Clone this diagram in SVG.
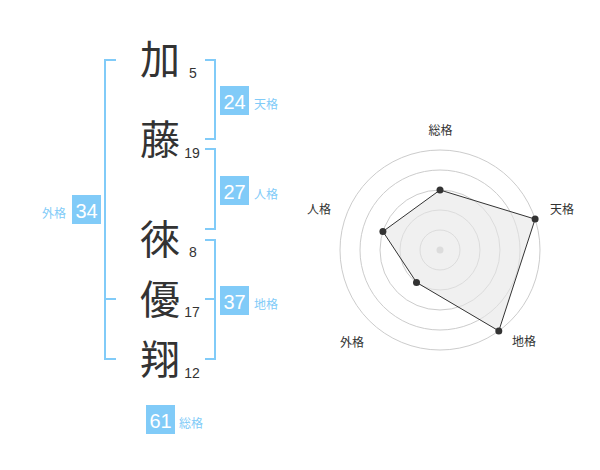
<svg xmlns="http://www.w3.org/2000/svg" width="600" height="470" viewBox="0 0 600 470">
<style>
.kj{font-family:"Noto Sans CJK JP","Noto Sans CJK SC",sans-serif;font-size:40px;fill:#333;text-anchor:middle}
.st{font-family:"Liberation Sans",Arial,sans-serif;font-size:14px;fill:#333;text-anchor:middle}
.bx{fill:#81cbf8}
.bn{font-family:"Liberation Sans",Arial,sans-serif;font-size:20px;fill:#fff;text-anchor:middle}
.bl{font-family:"Noto Sans CJK JP","Noto Sans CJK SC",sans-serif;font-size:12px;fill:#81cbf8}
.br{fill:none;stroke:#81cbf8;stroke-width:2}
.rl{font-family:"Noto Sans CJK JP","Noto Sans CJK SC",sans-serif;font-size:12px;fill:#333}
.ring{fill:none;stroke:#ccc;stroke-width:1}
.pt{fill:#333}
</style>
<rect width="600" height="470" fill="#fff"/>
<g id="brackets">
<path class="br" d="M116,60H105V359H116M105,299H116"/>
<path class="br" d="M205,60H215V139H205"/>
<path class="br" d="M205,149H215V229H205"/>
<path class="br" d="M205,240H215V359H205M205,299H215"/>
</g>
<g id="char-1"><text class="kj" x="160" y="74">加</text><text class="st" x="193" y="78">5</text></g>
<g id="char-2"><text class="kj" x="160" y="154">藤</text><text class="st" x="192" y="158">19</text></g>
<g id="char-3"><text class="kj" x="160" y="254">徠</text><text class="st" x="193" y="257">8</text></g>
<g id="char-4"><text class="kj" x="160" y="314">優</text><text class="st" x="192" y="317">17</text></g>
<g id="char-5"><text class="kj" x="160" y="374">翔</text><text class="st" x="192" y="378">12</text></g>
<g id="tenkaku"><rect class="bx" x="220" y="86" width="29" height="29"/><text class="bn" x="234.5" y="108.5">24</text><text class="bl" x="254" y="108.5">天格</text></g>
<g id="jinkaku"><rect class="bx" x="220" y="176" width="29" height="29"/><text class="bn" x="234.5" y="198.5">27</text><text class="bl" x="254" y="198.5">人格</text></g>
<g id="chikaku"><rect class="bx" x="220" y="286" width="29" height="29"/><text class="bn" x="234.5" y="308.5">37</text><text class="bl" x="254" y="308.5">地格</text></g>
<g id="gaikaku"><rect class="bx" x="72" y="195" width="29" height="29"/><text class="bn" x="86.5" y="217.5">34</text><text class="bl" x="66" y="217.5" text-anchor="end">外格</text></g>
<g id="soukaku"><rect class="bx" x="146" y="405" width="29" height="29"/><text class="bn" x="160.5" y="427.5">61</text><text class="bl" x="179" y="427.5">総格</text></g>
<g id="radar">
<circle class="ring" cx="440" cy="250" r="20"/>
<circle class="ring" cx="440" cy="250" r="40"/>
<circle class="ring" cx="440" cy="250" r="60"/>
<circle class="ring" cx="440" cy="250" r="80"/>
<circle class="ring" cx="440" cy="250" r="100"/>
<circle cx="440" cy="250" r="3.5" fill="#ccc"/>
<polygon points="440,190 535.1,219.1 498.8,330.9 416.5,282.4 382.9,231.5" fill="#e6e6e6" fill-opacity="0.6" stroke="#333" stroke-width="1"/>
<circle class="pt" cx="440" cy="190" r="3.5"/>
<circle class="pt" cx="535.1" cy="219.1" r="3.5"/>
<circle class="pt" cx="498.8" cy="330.9" r="3.5"/>
<circle class="pt" cx="416.5" cy="282.4" r="3.5"/>
<circle class="pt" cx="382.9" cy="231.5" r="3.5"/>
<text class="rl" x="440.5" y="135" text-anchor="middle">総格</text>
<text class="rl" x="550" y="213.5">天格</text>
<text class="rl" x="512" y="346">地格</text>
<text class="rl" x="340" y="346.5">外格</text>
<text class="rl" x="307" y="213.5">人格</text>
</g>
</svg>
